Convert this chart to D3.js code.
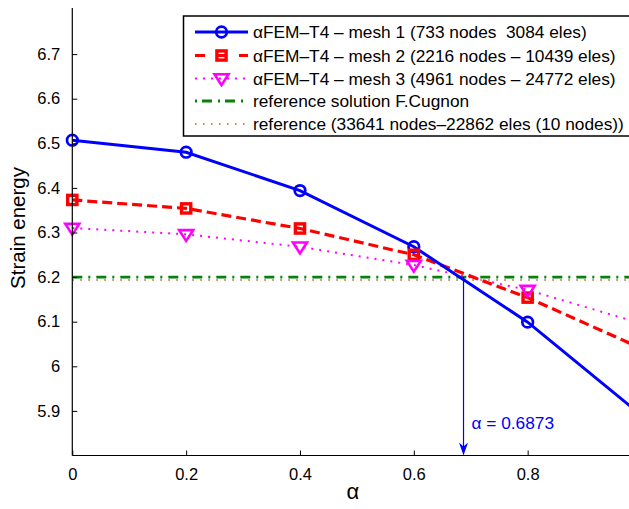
<!DOCTYPE html>
<html>
<head>
<meta charset="utf-8">
<script src="https://cdn.jsdelivr.net/npm/d3@7"></script>
<style>
  body { margin: 0; background: #fff; }
  svg { display: block; font-family: "Liberation Sans", Arial, sans-serif; }
  text { white-space: pre; }
</style>
</head>
<body>
<div id="chart"></div>
<script>
// chart data
var alphaVals = [0, 0.2, 0.4, 0.6, 0.8, 1.0];
var mesh1 = [6.507, 6.480, 6.394, 6.268, 6.099, 5.890];
var mesh2 = [6.373, 6.354, 6.309, 6.250, 6.154, 6.040];
var mesh3 = [6.310, 6.296, 6.268, 6.227, 6.171, 6.096];
var refCugnon = 6.200;
var refFine = 6.1935;
var alphaOpt = 0.6873;

// tick at 1 falls outside the cropped figure
var xTicks = [0, 0.2, 0.4, 0.6, 0.8];
var yTicks = [5.9, 6, 6.1, 6.2, 6.3, 6.4, 6.5, 6.6, 6.7];

var legendLabels = [
    "\u03B1FEM\u2013T4 \u2013 mesh 1 (733 nodes  3084 eles)",
    "\u03B1FEM\u2013T4 \u2013 mesh 2 (2216 nodes \u2013 10439 eles)",
    "\u03B1FEM\u2013T4 \u2013 mesh 3 (4961 nodes \u2013 24772 eles)",
    "reference solution F.Cugnon",
    "reference (33641 nodes\u201322862 eles (10 nodes))"
];

var W = 629, H = 509;
var pLeft = 72.3, pRight = 641.5, pTop = 9.5, pBottom = 455.5;

var x = d3.scaleLinear().domain([0, 1]).range([pLeft, pRight]);
var y = d3.scaleLinear().domain([5.8, 6.8]).range([pBottom, pTop]);

var svg = d3.select('#chart').append('svg')
    .attr('width', W).attr('height', H);

svg.append('defs').append('clipPath').attr('id', 'plotclip')
    .append('rect')
    .attr('x', pLeft).attr('y', pTop)
    .attr('width', pRight - pLeft).attr('height', pBottom - pTop);

// series styles
var series = [
    {vals: mesh1, color: '#0000ff', width: 3, dash: null, marker: 'circle'},
    {vals: mesh2, color: '#ff0000', width: 3.2, dash: '10,5', marker: 'square'},
    {vals: mesh3, color: '#ff00ff', width: 2, dash: '2,6', marker: 'tri'}
];
var refs = [
    {val: refCugnon, color: '#0a800a', width: 2.8, dash: '10,6,2,6'},
    {val: refFine, color: '#b4582a', width: 1.6, dash: '1.5,6.5'}
];

function drawMarker(g, type, cx, cy, color) {
    if (type === 'circle') {
        g.append('circle').attr('cx', cx).attr('cy', cy).attr('r', 5.3)
            .attr('fill', 'none').attr('stroke', color).attr('stroke-width', 2.7);
    } else if (type === 'square') {
        g.append('rect').attr('x', cx - 4.6).attr('y', cy - 4.6)
            .attr('width', 9.2).attr('height', 9.2)
            .attr('fill', 'none').attr('stroke', color).attr('stroke-width', 3.4);
    } else {
        var s = 7;
        g.append('path')
            .attr('d', 'M' + (cx - s) + ',' + (cy - s * 0.6) + 'L' + (cx + s) + ',' + (cy - s * 0.6) +
                'L' + cx + ',' + (cy + s * 0.95) + 'Z')
            .attr('fill', 'none').attr('stroke', color).attr('stroke-width', 2.6)
            .attr('stroke-linejoin', 'miter');
    }
}

var plot = svg.append('g').attr('clip-path', 'url(#plotclip)');

// reference lines
refs.forEach(function(r) {
    plot.append('line')
        .attr('x1', x(0)).attr('x2', x(1))
        .attr('y1', y(r.val)).attr('y2', y(r.val))
        .attr('stroke', r.color).attr('stroke-width', r.width)
        .attr('stroke-dasharray', r.dash);
});

var line = d3.line()
    .x(function(d, i) { return x(alphaVals[i]); })
    .y(function(d) { return y(d); });

// draw mesh 3 first, mesh 1 on top
series.slice().reverse().forEach(function(s) {
    plot.append('path')
        .datum(s.vals)
        .attr('d', line)
        .attr('fill', 'none')
        .attr('stroke', s.color)
        .attr('stroke-width', s.width)
        .attr('stroke-dasharray', s.dash);
});
series.forEach(function(s) {
    var mg = svg.append('g');
    s.vals.forEach(function(v, i) {
        drawMarker(mg, s.marker, x(alphaVals[i]), y(v), s.color);
    });
});

// alpha annotation arrow
var ax = x(alphaOpt);
svg.append('line')
    .attr('x1', ax).attr('x2', ax)
    .attr('y1', y(refCugnon)).attr('y2', pBottom - 4)
    .attr('stroke', '#0000ff').attr('stroke-width', 1.2);
svg.append('path')
    .attr('d', 'M' + (ax - 4.5) + ',' + (pBottom - 13) + 'L' + ax + ',' + (pBottom - 9) +
        'L' + (ax + 4.5) + ',' + (pBottom - 13) + 'L' + ax + ',' + pBottom + 'Z')
    .attr('fill', '#0000ff');
svg.append('text')
    .attr('x', ax + 8).attr('y', 428.5)
    .attr('font-size', 17.3).attr('fill', '#0000ff')
    .text('\u03B1 = ' + alphaOpt);

// axes (MATLAB style: ticks pointing inward)
var xAxis = d3.axisBottom(x).tickValues(xTicks)
    .tickSizeInner(-5).tickSizeOuter(0).tickPadding(13)
    .tickFormat(function(d) { return d === 0 ? '0' : d3.format('.1f')(d); });
var gx = svg.append('g').attr('transform', 'translate(0,' + pBottom + ')').call(xAxis);

var yAxis = d3.axisLeft(y).tickValues(yTicks)
    .tickSizeInner(-5).tickSizeOuter(0).tickPadding(12)
    .tickFormat(function(d) { return d === 6 ? '6' : d3.format('.1f')(d); });
var gy = svg.append('g').attr('transform', 'translate(' + pLeft + ',0)').call(yAxis);

[gx, gy].forEach(function(g) {
    g.attr('font-family', '"Liberation Sans", Arial, sans-serif').attr('font-size', 16.5);
    g.select('.domain').attr('stroke', '#000').attr('stroke-width', 1.2);
    g.selectAll('.tick line').attr('stroke', '#000').attr('stroke-width', 1);
    g.selectAll('.tick text').attr('fill', '#000');
});
gx.select('.domain').attr('d', 'M' + pLeft + ',0H' + pRight);
gy.select('.domain').attr('d', 'M0,' + (pTop - 1.5) + 'V' + pBottom);

// axis titles
svg.append('text')
    .attr('x', (pLeft + pRight) / 2 - 4).attr('y', 499)
    .attr('text-anchor', 'middle').attr('font-size', 22)
    .text('\u03B1');
svg.append('text')
    .attr('transform', 'translate(25,228) rotate(-90)')
    .attr('text-anchor', 'middle').attr('font-size', 20.5)
    .text('Strain energy');

// legend
var lg = svg.append('g');
lg.append('rect')
    .attr('x', 183.5).attr('y', 16).attr('width', 470).attr('height', 120)
    .attr('fill', '#fff').attr('stroke', '#000').attr('stroke-width', 1.5);

var rowY = [32, 55.5, 78.5, 101, 124];
var legItems = [
    {color: '#0000ff', width: 3, dash: null, marker: 'circle'},
    {color: '#ff0000', width: 3.2, dash: '10,12', marker: 'square'},
    {color: '#ff00ff', width: 2, dash: '2,6', marker: 'tri'},
    {color: '#0a800a', width: 2.8, dash: '2,5,10,6', marker: null},
    {color: '#b4582a', width: 1.6, dash: '1.5,6.5', marker: null}
];
legItems.forEach(function(it, i) {
    lg.append('line')
        .attr('x1', 195).attr('x2', 248)
        .attr('y1', rowY[i]).attr('y2', rowY[i])
        .attr('stroke', it.color).attr('stroke-width', it.width)
        .attr('stroke-dasharray', it.dash);
    if (it.marker) drawMarker(lg, it.marker, 221.5, rowY[i], it.color);
    lg.append('text')
        .attr('x', 253).attr('y', rowY[i] + 6)
        .attr('font-size', 17.3).attr('fill', '#000')
        .text(legendLabels[i]);
});
</script>
</body>
</html>
